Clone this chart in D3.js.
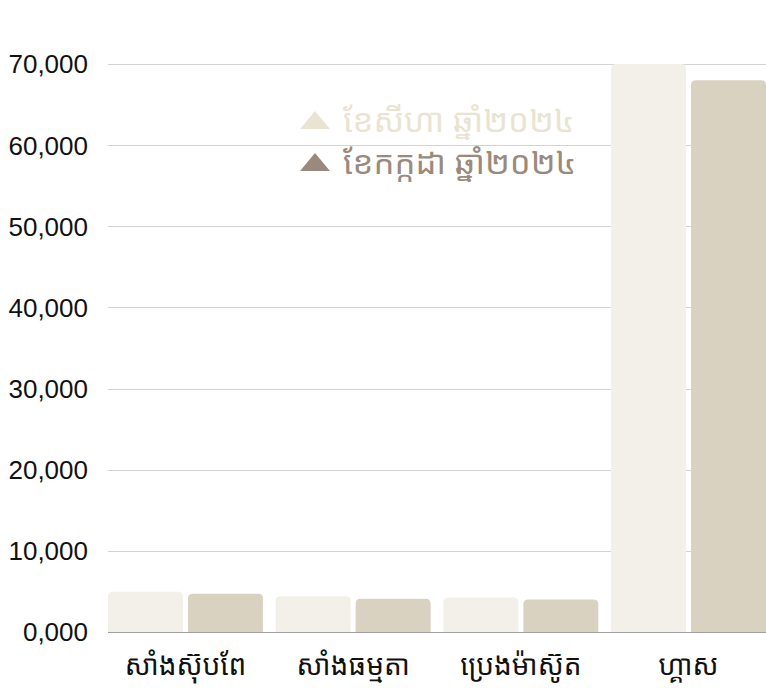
<!DOCTYPE html>
<html>
<head>
<meta charset="utf-8">
<script src="https://cdn.jsdelivr.net/npm/d3@7"></script>
<style>
  body { margin: 0; background: #fff; }
  svg { display: block; font-family: "Liberation Sans", Arial, sans-serif; }
  .khmer { font-family: "Noto Sans Khmer", "Khmer OS", "Noto Sans", sans-serif; }
</style>
</head>
<body>
<svg id="chart" width="766" height="698"></svg>
<script>
const categories = ["សាំងស៊ុបពែ", "សាំងធម្មតា", "ប្រេងម៉ាស៊ូត", "ហ្គាស"]
const series = ["ខែសីហា ឆ្នាំ២០២៤", "ខែកក្កដា ឆ្នាំ២០២៤"]
const values_aug = [4950, 4400, 4250, 70000]
const values_jul = [4700, 4100, 4000, 68000]
const tick_values = [0, 10000, 20000, 30000, 40000, 50000, 60000, 70000]
const bar_colors = ["#f3f0e9", "#d9d2c1"]
const legend_colors = ["#e9e4d2", "#9a8a7d"]

const svg = d3.select("#chart")
const margin = { left: 108, right: 0, top: 64, bottom: 66 }
const width = 766, height = 698
const baseY = height - margin.bottom

var y = d3.scaleLinear()
    .domain([0, 70000])
    .range([baseY, margin.top])

var x0 = d3.scaleBand()
    .domain(categories)
    .range([margin.left, width - margin.right])
    .paddingInner(0.076)
    .paddingOuter(0)

var x1 = d3.scaleBand()
    .domain([0, 1])
    .range([0, x0.bandwidth()])
    .paddingInner(0.0625)

// gridlines
svg.append("g")
    .selectAll("line")
    .data(tick_values.filter(d => d > 0))
    .enter().append("line")
    .attr("x1", margin.left)
    .attr("x2", width)
    .attr("y1", d => Math.round(y(d)) + 0.5)
    .attr("y2", d => Math.round(y(d)) + 0.5)
    .attr("stroke", "#d3d3d3")
    .attr("stroke-width", 1)

// y labels
var fmt = d3.format(",")
svg.append("g")
    .selectAll("text")
    .data(tick_values)
    .enter().append("text")
    .attr("x", 88)
    .attr("y", d => y(d))
    .attr("dy", "0.36em")
    .attr("text-anchor", "end")
    .attr("font-size", 26)
    .attr("fill", "#111")
    .text(d => d == 0 ? "0,000" : fmt(d))

// baseline
svg.append("line")
    .attr("x1", margin.left)
    .attr("x2", width)
    .attr("y1", baseY + 0.5)
    .attr("y2", baseY + 0.5)
    .attr("stroke", "#a0a0a0")

// bars with rounded tops
function topRounded(x, yTop, w, h, r) {
    r = Math.min(r, h / 2, w / 2)
    return "M" + x + "," + (yTop + h) +
        "V" + (yTop + r) +
        "Q" + x + "," + yTop + " " + (x + r) + "," + yTop +
        "H" + (x + w - r) +
        "Q" + (x + w) + "," + yTop + " " + (x + w) + "," + (yTop + r) +
        "V" + (yTop + h) + "Z"
}

var rows = categories.map((c, i) => ({ cat: c, vals: [values_aug[i], values_jul[i]] }))

var groups = svg.append("g")
    .selectAll("g")
    .data(rows)
    .enter().append("g")
    .attr("transform", d => "translate(" + x0(d.cat) + ",0)")

groups.selectAll("path")
    .data(d => d.vals.map((v, k) => ({ k: k, v: v })))
    .enter().append("path")
    .attr("d", d => topRounded(x1(d.k), y(d.v), x1.bandwidth(), baseY - y(d.v), 5))
    .attr("fill", d => bar_colors[d.k])

// x labels
svg.append("g")
    .selectAll("text")
    .data(categories)
    .enter().append("text")
    .attr("class", "khmer")
    .attr("x", d => x0(d) + x0.bandwidth() / 2)
    .attr("y", 675)
    .attr("text-anchor", "middle")
    .attr("font-size", 28)
    .attr("fill", "#111")
    .text(d => d)

// legend
var legend = svg.append("g")
    .selectAll("g")
    .data(series)
    .enter().append("g")
    .attr("transform", (d, i) => "translate(300," + (120 + i * 42) + ")")

legend.append("path")
    .attr("d", "M0,9L15,-9L30,9Z")
    .attr("fill", (d, i) => legend_colors[i])

legend.append("text")
    .attr("class", "khmer")
    .attr("x", 43)
    .attr("y", 0)
    .attr("dy", "0.35em")
    .attr("font-size", 33)
    .attr("fill", (d, i) => legend_colors[i])
    .text(d => d)
</script>
</body>
</html>
